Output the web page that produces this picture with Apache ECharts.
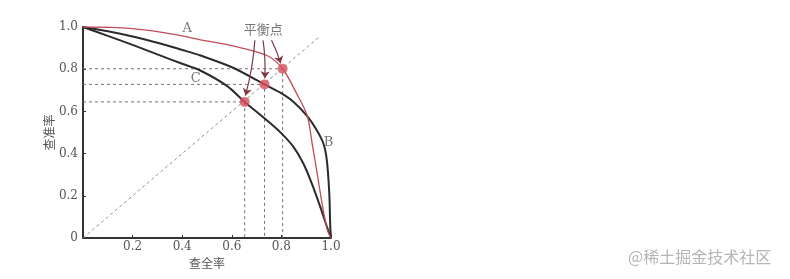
<!DOCTYPE html>
<html>
<head>
<meta charset="utf-8">
<script src="https://cdn.jsdelivr.net/npm/echarts@6/dist/echarts.min.js"></script>
<style>
html,body{margin:0;padding:0;background:#fff;}
#chart{width:790px;height:279px;}
</style>
</head>
<body>
<div id="chart"></div>
<script>
// Tick labels
const xTickLabels = ['', '0.2', '0.4', '0.6', '0.8', '1.0'];
const yTickLabels = ['0', '0.2', '0.4', '0.6', '0.8', '1.0'];

// P-R curves: [recall, precision]
const curveA = [[0,1.0],[0.12,0.998],[0.255,0.985],[0.39,0.96],[0.47,0.94],[0.605,0.91],[0.74,0.866],[0.805,0.802],[0.859,0.69],[0.904,0.58],[0.925,0.44],[0.945,0.3],[0.966,0.15],[0.985,0.04],[1,0]];
const curveB = [[0,1.0],[0.1,0.98],[0.2,0.955],[0.3,0.925],[0.404,0.89],[0.471,0.866],[0.605,0.807],[0.732,0.728],[0.794,0.69],[0.848,0.646],[0.904,0.578],[0.942,0.512],[0.969,0.449],[0.983,0.37],[0.993,0.213],[0.997,0.055],[1,0]];
const curveC = [[0,1.0],[0.1,0.958],[0.2,0.915],[0.3,0.87],[0.4,0.826],[0.471,0.795],[0.579,0.722],[0.652,0.645],[0.74,0.559],[0.8,0.496],[0.848,0.433],[0.888,0.354],[0.922,0.26],[0.956,0.15],[0.983,0.055],[1,0]];

// Break-even points
const bepNames = ['A', 'B', 'C'];
const bepPoints = [[0.805,0.802],[0.732,0.728],[0.652,0.645]];

// Diagonal y = x
const diagonal = [[0,0],[0.95,0.95]];

// Annotation arrows (start -> end)
const arrows = [
  [[0.693,0.937],[0.655,0.675]],
  [[0.726,0.937],[0.733,0.757]],
  [[0.760,0.937],[0.797,0.828]]
];

// Text labels
const textLabels = [
  {name: 'A', value: [0.42, 0.993]},
  {name: 'B', value: [0.99, 0.452]},
  {name: 'C', value: [0.455, 0.756]},
  {name: '平衡点', value: [0.727, 0.985]}
];

const chart = echarts.init(document.getElementById('chart'), null, {renderer: 'canvas'});

const dashStyle = {color: '#7a7070', width: 1, type: [3, 3]};
const guideSeries = [];
bepPoints.forEach(function (p) {
  guideSeries.push({
    type: 'line', data: [[0, p[1]], [p[0], p[1]], [p[0], 0]],
    symbol: 'none', lineStyle: dashStyle, silent: true, z: 1
  });
});

const option = {
  animation: false,
  backgroundColor: '#fff',
  grid: {left: 83, right: 459, top: 27, bottom: 41, containLabel: false},
  xAxis: {
    type: 'value', min: 0, max: 1, interval: 0.2,
    name: '查全率', nameLocation: 'middle', nameGap: 17,
    nameTextStyle: {fontFamily: 'Noto Sans CJK SC', fontSize: 12, color: '#555'},
    axisLine: {show: true, onZero: false, lineStyle: {color: '#333', width: 2}},
    axisTick: {show: true, inside: true, length: 3, lineStyle: {color: '#333'}},
    axisLabel: {
      margin: 3, fontFamily: 'DejaVu Serif', fontSize: 12, color: '#555',
      formatter: function (v) { return xTickLabels[Math.round(v / 0.2)]; }
    },
    splitLine: {show: false}
  },
  yAxis: {
    type: 'value', min: 0, max: 1, interval: 0.2,
    name: '查准率', nameLocation: 'middle', nameGap: 28, nameRotate: 90,
    nameTextStyle: {fontFamily: 'Noto Sans CJK SC', fontSize: 12, color: '#555'},
    axisLine: {show: true, onZero: false, lineStyle: {color: '#333', width: 2}},
    axisTick: {show: true, inside: true, length: 3, lineStyle: {color: '#333'}},
    axisLabel: {
      margin: 5, fontFamily: 'DejaVu Serif', fontSize: 12, color: '#555',
      formatter: function (v) { return yTickLabels[Math.round(v / 0.2)]; }
    },
    splitLine: {show: false}
  },
  series: guideSeries.concat([
    {
      type: 'line', data: diagonal, symbol: 'none',
      lineStyle: {color: '#9a8a8a', width: 1, type: [3, 3]}, silent: true, z: 1
    },
    {
      type: 'line', name: 'C', data: curveC, symbol: 'none', smooth: 0.3,
      lineStyle: {color: '#2b2b2b', width: 2}, z: 3
    },
    {
      type: 'line', name: 'B', data: curveB, symbol: 'none', smooth: 0.3,
      lineStyle: {color: '#2b2b2b', width: 2}, z: 3
    },
    {
      type: 'line', name: 'A', data: curveA, symbol: 'none', smooth: 0.3,
      lineStyle: {color: '#c24b57', width: 1.3}, z: 4
    },
    {
      type: 'lines', coordinateSystem: 'cartesian2d',
      data: arrows.map(function (a) { return {coords: a}; }),
      symbol: ['none', 'arrow'], symbolSize: 7,
      lineStyle: {color: '#7d3a42', width: 1.2, curveness: 0.05, opacity: 1}, z: 5
    },
    {
      type: 'scatter', data: bepPoints.map(function (p, i) { return {name: bepNames[i], value: p}; }),
      symbolSize: 10, itemStyle: {color: '#d44f5e'}, z: 6
    },
    {
      type: 'scatter', data: textLabels, symbolSize: 0, silent: true,
      label: {
        show: true, position: 'inside', formatter: '{b}',
        color: '#555', fontSize: 13,
        fontFamily: 'DejaVu Serif, Noto Sans CJK SC'
      }, z: 7
    }
  ]),
  graphic: [{
    type: 'text', left: 628, top: 249,
    style: {text: '@稀土掘金技术社区', fontFamily: 'Noto Sans CJK SC', fontSize: 16, fill: '#b5b5b5'}
  }]
};
chart.setOption(option);
</script>
</body>
</html>
